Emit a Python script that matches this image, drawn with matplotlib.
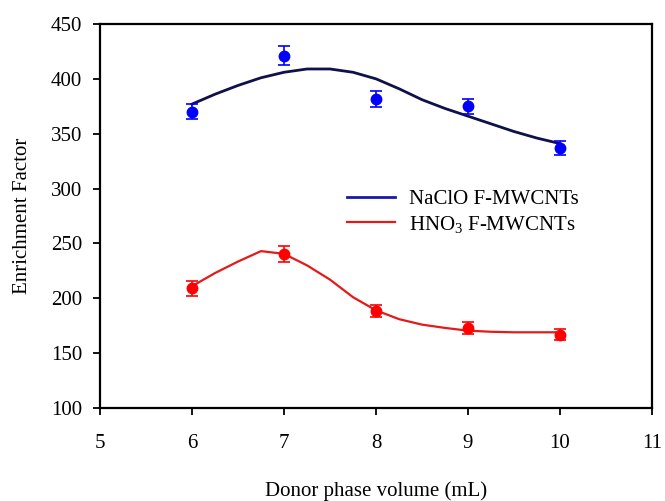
import matplotlib
matplotlib.use('Agg')
import matplotlib.pyplot as plt

plt.rcParams['font.family'] = ['Liberation Serif', 'DejaVu Serif']
plt.rcParams['mathtext.fontset'] = 'custom'
plt.rcParams['mathtext.rm'] = 'Liberation Serif'
plt.rcParams['mathtext.it'] = 'Liberation Serif:italic'

# measured points
volume = [6, 7, 8, 9, 10]
naclo = [370, 421, 382, 375, 337]
naclo_err = [6.8, 8.8, 7.3, 6.8, 6]
hno3 = [209, 240.5, 188.5, 172.8, 166.7]
hno3_err = [6.7, 7, 5.5, 5.3, 4.9]

# fitted curves
curve_x = [6.0, 6.25, 6.5, 6.75, 7.0, 7.25, 7.5, 7.75, 8.0, 8.25, 8.5, 8.75,
           9.0, 9.25, 9.5, 9.75, 10.0]
naclo_fit = [377, 386, 394, 401, 406, 409, 409, 406, 400, 391, 381, 373,
             366, 359, 352, 346, 341]
hno3_fit = [211, 223, 233.5, 243, 240.5, 230, 217, 201, 189, 181, 176, 173,
            170.5, 169.5, 169, 169, 169]

fig = plt.figure(figsize=(6.65, 5.01), dpi=100)
ax = fig.add_axes([0.1504, 0.1856, 0.8301, 0.7665])

ax.plot(curve_x, naclo_fit, color='#10104a', lw=2, label='NaClO F-MWCNTs')
ax.plot(curve_x, hno3_fit, color='#e31a1a', lw=1.6, label='HNO$_3$ F-MWCNTs')
ax.errorbar(volume, naclo, yerr=naclo_err, fmt='o', color='#0000ff', ms=7.5,
            capsize=4.3, elinewidth=1.2, capthick=1.2)
ax.errorbar(volume, hno3, yerr=hno3_err, fmt='o', color='#ff0000', ms=7.5,
            capsize=4.3, elinewidth=1.2, capthick=1.2)

ax.set_xlim(5, 11)
ax.set_ylim(100, 450)
ax.set_xticks(range(5, 12))
ax.set_yticks(range(100, 451, 50))
ax.tick_params(direction='out', length=5, width=1.3, labelsize=15)
ax.tick_params(axis='x', pad=14)
ax.tick_params(axis='y', pad=8)
for s in ax.spines.values():
    s.set_linewidth(1.6)

ax.set_xlabel('Donor phase volume (mL)', fontsize=15)
ax.xaxis.set_label_coords(0.5, -0.192)
ax.set_ylabel('Enrichment Factor', fontsize=15)
ax.yaxis.set_label_coords(-0.124, 0.5)

leg = ax.legend(loc='center left', bbox_to_anchor=(0.447, 0.51), frameon=False,
                fontsize=15, handlelength=2.3, handletextpad=0.67,
                labelspacing=0.2, borderpad=0, borderaxespad=0)
leg.get_lines()[0].set_color('#1a1aa8')

fig.savefig('out.png', dpi=100)
